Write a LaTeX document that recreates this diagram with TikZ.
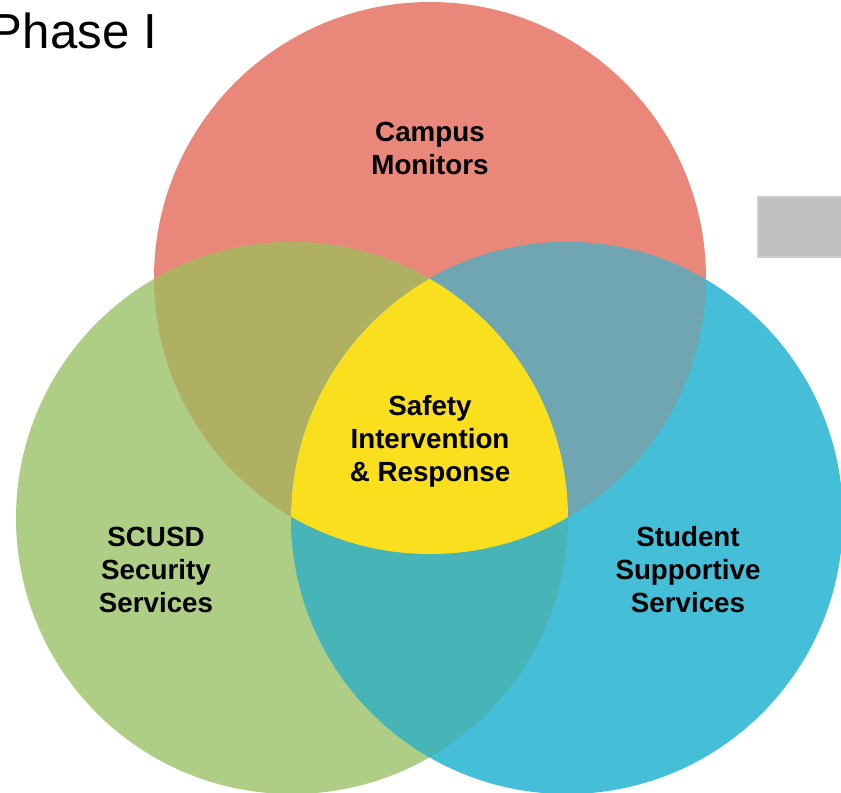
\documentclass[tikz,border=0pt]{standalone}
\usepackage{fontspec}
\setmainfont{Liberation Sans}
\usepackage{tikz}

\definecolor{monred}{HTML}{E8877A}
\definecolor{secgreen}{HTML}{AECD85}
\definecolor{supblue}{HTML}{45BFD8}
\definecolor{redgreen}{HTML}{AFB062}
\definecolor{redblue}{HTML}{70A6B1}
\definecolor{greenblue}{HTML}{47B5B8}
\definecolor{coreyellow}{HTML}{FADF1F}

\tikzset{
  lbl/.style={align=center, font=\fontsize{15.8pt}{18.8pt}\selectfont\bfseries, text=black},
}

\begin{document}
\begin{tikzpicture}[x=0.02cm, y=-0.02cm]
                \useasboundingbox (0,0) rectangle (841,792);
                \clip (0,0) rectangle (841,792);
                % Draw the three circles
                \fill[monred] (430,278) circle (276);
                \fill[secgreen] (292,518) circle (276);
                \fill[supblue] (567,518) circle (276);
                % Draw the pairwise overlaps
                \begin{scope}
                    \clip (430,278) circle (276);
                    \fill[redgreen] (292,518) circle (276);
                    \fill[redblue] (567,518) circle (276);
                \end{scope}
                \begin{scope}
                    \clip (292,518) circle (276);
                    \fill[greenblue] (567,518) circle (276);
                \end{scope}
                % Draw the common centre
                \begin{scope}
                    \clip (430,278) circle (276);
                    \clip (292,518) circle (276);
                    \fill[coreyellow] (567,518) circle (276);
                \end{scope}
                % Draw the grey box on the right
                \filldraw[fill=black!25, draw=black!20, line width=0.6pt] (758,197) rectangle (845,257);
                % Labels
                \node[anchor=base east, font=\fontsize{28pt}{30pt}\selectfont] (phase) at (163,48) {Phase I};
                \node[lbl] (monitors) at (430,148) {Campus\\Monitors};
                \node[lbl] (core) at (430,441) {Safety\\Intervention\\\& Response};
                \node[lbl] (security) at (156,570) {SCUSD\\Security\\Services};
                \node[lbl] (support) at (688,570) {Student\\Supportive\\Services};
            \end{tikzpicture}
\end{document}
